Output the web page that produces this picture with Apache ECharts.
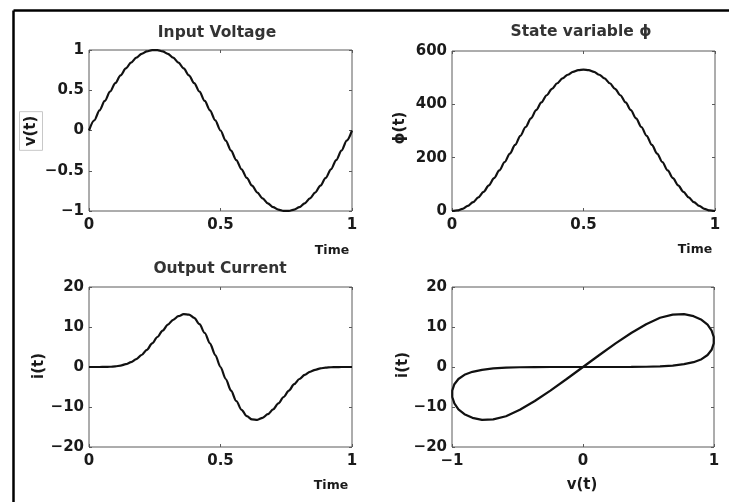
<!DOCTYPE html>
<html>
<head>
<meta charset="utf-8">
<script src="https://cdn.jsdelivr.net/npm/echarts@6/dist/echarts.min.js"></script>
<style>
html,body{margin:0;padding:0;background:#fff;}
#c{width:729px;height:502px;}
</style>
</head>
<body>
<div id="c"></div>
<script>
// time samples
var timeValues = [0,0.02,0.04,0.06,0.08,0.1,0.12,0.14,0.16,0.18,0.2,0.22,0.24,0.26,0.28,0.3,0.32,0.34,0.36,0.38,0.4,0.42,0.44,0.46,0.48,0.5,
  0.52,0.54,0.56,0.58,0.6,0.62,0.64,0.66,0.68,0.7,0.72,0.74,0.76,0.78,0.8,0.82,0.84,0.86,0.88,0.9,0.92,0.94,0.96,0.98,1];
// input voltage v(t)
var voltage = [0,0.125,0.249,0.368,0.482,0.588,0.685,0.771,0.844,0.905,0.951,0.982,0.998,0.998,0.982,0.951,0.905,0.844,0.771,0.685,0.588,0.482,0.368,0.249,0.125,0,
  -0.125,-0.249,-0.368,-0.482,-0.588,-0.685,-0.771,-0.844,-0.905,-0.951,-0.982,-0.998,-0.998,-0.982,-0.951,-0.905,-0.844,-0.771,-0.685,-0.588,-0.482,-0.368,-0.249,-0.125,0];
// state variable phi(t)
var phiValues = [0,2,8,19,33,51,72,96,123,152,183,215,248,282,315,347,378,407,434,458,479,497,511,522,528,530,
  528,522,511,497,479,458,434,407,378,347,315,282,248,215,183,152,123,96,72,51,33,19,8,2,0];
// output current i(t)
var current = [0,0,0,0.02,0.06,0.15,0.35,0.7,1.2,1.95,3.0,4.3,5.9,7.5,9.1,10.6,11.8,12.7,13.2,13.1,12.3,10.7,8.5,5.9,3.0,0,
  -3.0,-5.9,-8.5,-10.7,-12.3,-13.1,-13.2,-12.7,-11.8,-10.6,-9.1,-7.5,-5.9,-4.3,-3.0,-1.95,-1.2,-0.7,-0.35,-0.15,-0.06,-0.02,0,0,0];

var titles = ['Input Voltage','State variable \u03D5','Output Current',''];
var yNames = ['v(t)','\u03D5(t)','i(t)','i(t)'];
var xNames = ['Time','Time','Time','v(t)'];

var FONT = 'DejaVu Sans';
var grids = [
  {left:89, top:50, width:263, height:161},
  {left:452, top:51, width:263, height:160},
  {left:89, top:287, width:263, height:160},
  {left:452, top:287, width:262, height:160}
];
var xr = [[0,1,0.5],[0,1,0.5],[0,1,0.5],[-1,1,1]];
var yr = [[-1,1,0.5],[0,600,200],[-20,20,10],[-20,20,10]];

function fmt(v){ return String(v).replace('-', '\u2212'); }

var xAxes = [], yAxes = [];
grids.forEach(function(g, k){
  g.show = true; g.borderColor = '#5a5a5a'; g.borderWidth = 1; g.backgroundColor = '#fff';
  ['bottom','top'].forEach(function(pos){
    xAxes.push({
      type:'value', gridIndex:k, position:pos, min:xr[k][0], max:xr[k][1], interval:xr[k][2],
      axisLine:{show:false, onZero:false}, splitLine:{show:false},
      axisTick:{show:true, inside:true, length:3, lineStyle:{color:'#5a5a5a'}},
      axisLabel:{show:pos==='bottom', margin:7, formatter:fmt, color:'#1a1a1a',
        fontFamily:FONT, fontWeight:'bold', fontSize:15}
    });
  });
  ['left','right'].forEach(function(pos){
    yAxes.push({
      type:'value', gridIndex:k, position:pos, min:yr[k][0], max:yr[k][1], interval:yr[k][2],
      axisLine:{show:false, onZero:false}, splitLine:{show:false},
      axisTick:{show:true, inside:true, length:3, lineStyle:{color:'#5a5a5a'}},
      axisLabel:{show:pos==='left', margin:5, formatter:fmt, color:'#1a1a1a',
        fontFamily:FONT, fontWeight:'bold', fontSize:15}
    });
  });
});

function pairs(xs, ys){ return xs.map(function(x, n){ return [x, ys[n]]; }); }

var lineBase = {type:'line', showSymbol:false, symbol:'none', lineStyle:{color:'#111', width:2.2}, silent:true};
var series = [
  Object.assign({}, lineBase, {xAxisIndex:0, yAxisIndex:0, data:pairs(timeValues, voltage), smooth:0.3, smoothMonotone:'x'}),
  Object.assign({}, lineBase, {xAxisIndex:2, yAxisIndex:2, data:pairs(timeValues, phiValues), smooth:0.3, smoothMonotone:'x'}),
  Object.assign({}, lineBase, {xAxisIndex:4, yAxisIndex:4, data:pairs(timeValues, current), smooth:0.3, smoothMonotone:'x'}),
  Object.assign({}, lineBase, {xAxisIndex:6, yAxisIndex:6, data:pairs(voltage, current)})
];

var titlePos = [[217,33],[581,32],[220,269]];
var yNamePos = [[31,131],[400,128],[39,366],[403,365]];
var xNamePos = [[332,251],[695,250],[331,486],[582,485]];

var graphics = [
  {type:'line', shape:{x1:13.5, y1:10.5, x2:13.5, y2:502}, style:{stroke:'#000', lineWidth:2.5}},
  {type:'line', shape:{x1:13.5, y1:10.5, x2:729, y2:10.5}, style:{stroke:'#000', lineWidth:2.5}}
];
titlePos.forEach(function(p, k){
  graphics.push({type:'text', x:p[0], y:p[1], style:{text:titles[k], textAlign:'center', textVerticalAlign:'middle',
    fill:'#333', font:'bold 15.5px "DejaVu Sans"'}});
});
yNamePos.forEach(function(p, k){
  var st = {text:yNames[k], textAlign:'center', textVerticalAlign:'middle', fill:'#1a1a1a', font:'bold 15px "DejaVu Sans"'};
  if (k === 0) { st.borderColor = '#c8c8c8'; st.borderWidth = 1; st.padding = [5,4,3,4]; }
  graphics.push({type:'text', x:p[0], y:p[1], rotation:Math.PI/2, style:st});
});
xNamePos.forEach(function(p, k){
  graphics.push({type:'text', x:p[0], y:p[1], style:{text:xNames[k], textAlign:'center', textVerticalAlign:'middle',
    fill:'#1a1a1a', font:(k===3?'bold 15px':'bold 12.5px')+' "DejaVu Sans"'}});
});

var chart = echarts.init(document.getElementById('c'), null, {renderer:'canvas'});
chart.setOption({
  animation:false,
  backgroundColor:'#fff',
  grid:grids,
  xAxis:xAxes,
  yAxis:yAxes,
  series:series,
  graphic:graphics
});
</script>
</body>
</html>
